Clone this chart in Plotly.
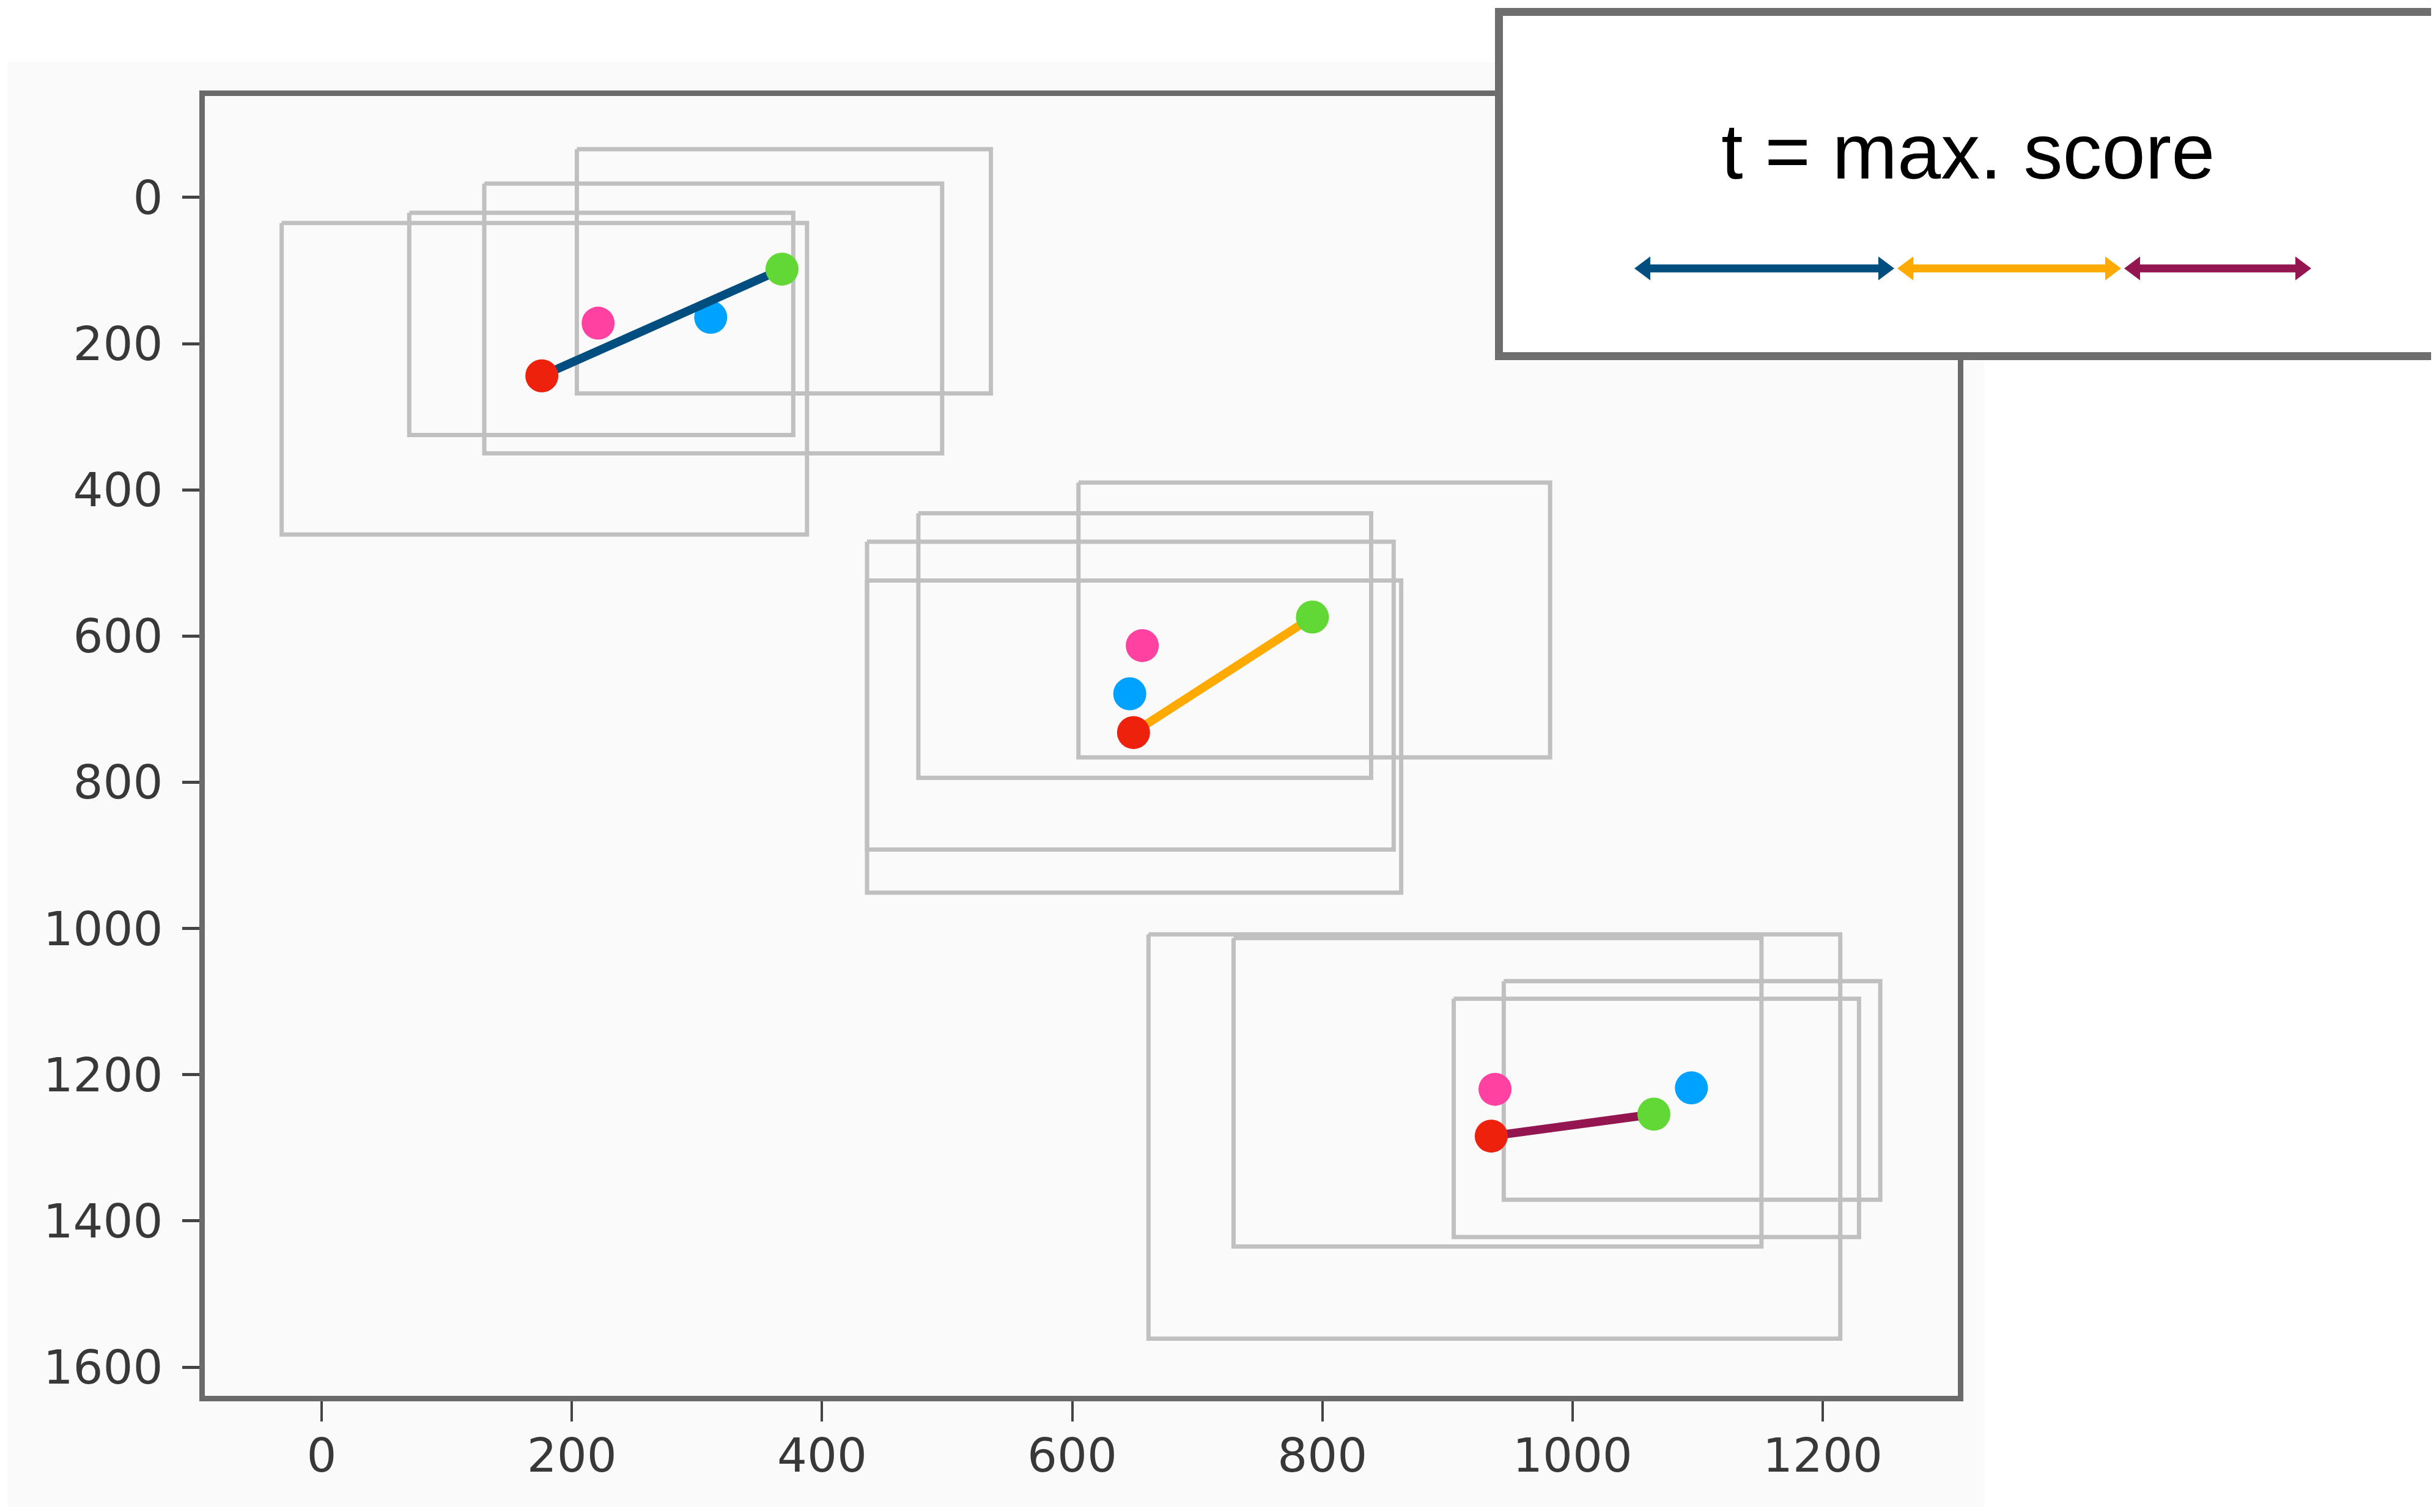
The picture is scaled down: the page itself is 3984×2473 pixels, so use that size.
import plotly.graph_objects as go

# ---------------- data ----------------
box_x0 = [-32, 70, 130, 204, 605, 477, 436, 436, 661, 729, 905, 945]
box_y0 = [35, 21, -19, -66, 390, 432, 471, 524, 1008, 1013, 1096, 1072]
box_x1 = [388, 377, 496, 535, 982, 839, 857, 863, 1214, 1151, 1229, 1246]
box_y1 = [461, 325, 350, 268, 766, 794, 892, 951, 1561, 1435, 1422, 1371]

red_x = [176, 649, 935]
red_y = [244, 732, 1284]
pink_x = [221, 656, 938]
pink_y = [172, 613, 1220]
blue_x = [311, 646, 1095]
blue_y = [164, 679, 1218]
green_x = [368, 792, 1065]
green_y = [98, 574, 1254]

x_ticks = [0, 200, 400, 600, 800, 1000, 1200]
y_ticks = [0, 200, 400, 600, 800, 1000, 1200, 1400, 1600]
legend_text = "t = max. score"

# ---------------- styles ----------------
OFFX, OFFY = 8, 8  # page (body) offset of the figure
W, H = 3984 - OFFX, 2473 - OFFY
PL, PR, PT, PB = 335 - OFFX, 3202 - OFFX, 157 - OFFY, 2283 - OFFY
X_RANGE = [-93.4, 1308]
Y_RANGE = [1639.3, -138.8]
link_colors = ["#004D80", "#FFAA00", "#941651"]
C_RED, C_PINK, C_BLUE, C_GREEN = "#EE220C", "#FF42A1", "#00A2FF", "#61D836"
BOX_COLOR = "#c0c0c0"
MS = 54


def px(x):
    return (x - OFFX - PL) / (PR - PL)


def py(y):
    return (PB - (y - OFFY)) / (PB - PT)


fig = go.Figure()

# boxes
for x0, y0, x1, y1 in zip(box_x0, box_y0, box_x1, box_y1):
    fig.add_trace(go.Scatter(
        x=[x0, x1, x1, x0, x0], y=[y0, y0, y1, y1, y0], mode="lines",
        line=dict(color=BOX_COLOR, width=7), hoverinfo="skip", showlegend=False))

# pink and blue points (below links)
fig.add_trace(go.Scatter(x=pink_x, y=pink_y, mode="markers",
                         marker=dict(color=C_PINK, size=MS, line=dict(width=0)), showlegend=False))
fig.add_trace(go.Scatter(x=blue_x, y=blue_y, mode="markers",
                         marker=dict(color=C_BLUE, size=MS, line=dict(width=0)), showlegend=False))

# links red -> green
for i in range(len(red_x)):
    fig.add_trace(go.Scatter(x=[red_x[i], green_x[i]], y=[red_y[i], green_y[i]], mode="lines",
                             line=dict(color=link_colors[i], width=14), showlegend=False))

fig.add_trace(go.Scatter(x=red_x, y=red_y, mode="markers",
                         marker=dict(color=C_RED, size=MS, line=dict(width=0)), showlegend=False))
fig.add_trace(go.Scatter(x=green_x, y=green_y, mode="markers",
                         marker=dict(color=C_GREEN, size=MS, line=dict(width=0)), showlegend=False))

shapes = []
# light background panel behind the chart image
shapes.append(dict(type="rect", xref="paper", yref="paper", layer="below",
                   x0=px(13), x1=px(3245), y0=py(2465), y1=py(101),
                   fillcolor="#fafafa", line=dict(width=0)))
# legend box
shapes.append(dict(type="rect", xref="paper", yref="paper", layer="above",
                   x0=px(2451.5), x1=px(4010), y0=py(582.5), y1=py(19.5),
                   fillcolor="white", line=dict(color="#6e6e6e", width=13)))

# legend arrows
arrow_spans = [(2673, 3098), (3103, 3469), (3474, 3780)]
cy, half_w, half_h, head = 439, 6.5, 19.5, 26
for (a, b), col in zip(arrow_spans, link_colors):
    pts = [(a, cy), (a + head, cy - half_h), (a + head, cy - half_w), (b - head, cy - half_w),
           (b - head, cy - half_h), (b, cy), (b - head, cy + half_h), (b - head, cy + half_w),
           (a + head, cy + half_w), (a + head, cy + half_h)]
    path = "M " + " L ".join(f"{px(x):.5f},{py(y):.5f}" for x, y in pts) + " Z"
    shapes.append(dict(type="path", xref="paper", yref="paper", layer="above", path=path,
                       fillcolor=col, line=dict(width=0)))

annotations = [dict(xref="paper", yref="paper", x=px(3219), y=py(247), text=legend_text,
                    showarrow=False, xanchor="center", yanchor="middle",
                    font=dict(family="Liberation Sans, Arial", size=128, color="black"))]

axis_common = dict(showgrid=False, zeroline=False, showline=True, mirror=True,
                   linecolor="#6a6a6a", linewidth=9, ticks="outside", tickcolor="#444444",
                   tickfont=dict(family="DejaVu Sans", size=77, color="#383838"))

fig.update_layout(
    width=W, height=H,
    margin=dict(l=PL, r=W - PR, t=PT, b=H - PB, pad=0),
    paper_bgcolor="white", plot_bgcolor="rgba(0,0,0,0)",
    xaxis=dict(range=X_RANGE, tickvals=x_ticks, ticklen=33, tickwidth=4,
               ticklabelstandoff=-10, **axis_common),
    yaxis=dict(range=Y_RANGE, tickvals=y_ticks, ticklen=28, tickwidth=5,
               ticklabelstandoff=16, **axis_common),
    shapes=shapes, annotations=annotations, showlegend=False,
)

fig.write_html("out.html")
